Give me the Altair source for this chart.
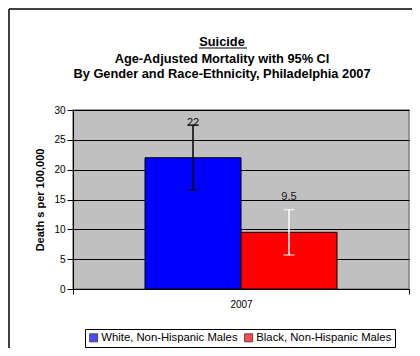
import altair as alt
import pandas as pd

groups = ["White, Non-Hispanic Males", "Black, Non-Hispanic Males"]
years = ["2007", "2007"]
values = [22, 9.5]
lower = [16.6, 5.7]
upper = [27.5, 13.3]
labels = ["22", "9.5"]
bar_colors = ["#0000FF", "#FF0000"]
err_colors = ["#000000", "#FFFFFF"]
y_ticks = [0, 5, 10, 15, 20, 25, 30]

title_lines = [
    "Suicide",
    "Age-Adjusted Mortality with 95% CI",
    "By Gender and Race-Ethnicity, Philadelphia 2007",
]

df = pd.DataFrame({
    "group": groups,
    "year": years,
    "value": values,
    "lower": lower,
    "upper": upper,
    "label": labels,
    "ebc": err_colors,
})
one = pd.DataFrame({"k": [0]})

FONT = "Liberation Sans"

yscale = alt.Scale(domain=[0, 30], nice=False)
yaxis = alt.Axis(
    values=y_ticks, title="Death s per 100,000",
    titleFontSize=11, titleFontWeight="bold", titleColor="#000",
    titleX=-33, titleY=89.5, titleAngle=270, titleAlign="center",
    titleBaseline="middle",
    labelFontSize=10, labelColor="#000", tickColor="#000",
    domainColor="#000", tickSize=6, labelPadding=2,
    grid=True, gridColor="#000", gridWidth=1,
)

base = alt.Chart(df).encode(
    x=alt.X(
        "year:N",
        scale=alt.Scale(paddingInner=0, paddingOuter=0),
        axis=alt.Axis(
            title=None, labelAngle=0, tickBand="extent", grid=False,
            labelFontSize=10, labelColor="#000", tickColor="#000",
            domainColor="#000", tickSize=5, labelPadding=5,
        ),
    ),
    xOffset=alt.XOffset(
        "group:N", sort=groups,
        scale=alt.Scale(paddingInner=0, paddingOuter=0.75),
    ),
)

bars = base.mark_bar(stroke="black", strokeWidth=1).encode(
    y=alt.Y("value:Q", scale=yscale, axis=yaxis),
    color=alt.Color(
        "group:N", sort=groups,
        scale=alt.Scale(domain=groups, range=bar_colors),
        legend=alt.Legend(
            title=None, orient="none", legendX=12, legendY=219,
            direction="horizontal", strokeColor="black", fillColor="white",
            padding=3, labelFontSize=11.3, labelColor="#000", labelLimit=400,
            symbolType="square", symbolSize=64, symbolStrokeColor="black",
            symbolStrokeWidth=1, columnPadding=4, labelOffset=2,
        ),
    ),
)

err = base.mark_rule(strokeWidth=1.5).encode(
    y=alt.Y("lower:Q", scale=yscale, axis=yaxis), y2="upper:Q",
    color=alt.Color("ebc:N", scale=None),
)
cap_lo = base.mark_tick(size=11, thickness=1.5).encode(
    y=alt.Y("lower:Q", scale=yscale, axis=yaxis),
    color=alt.Color("ebc:N", scale=None),
)
cap_hi = base.mark_tick(size=11, thickness=1.5).encode(
    y=alt.Y("upper:Q", scale=yscale, axis=yaxis),
    color=alt.Color("ebc:N", scale=None),
)
text = base.mark_text(dy=-35, fontSize=11, color="#111").encode(
    y=alt.Y("value:Q", scale=yscale, axis=yaxis), text="label:N"
)

def tline(s, y):
    return alt.Chart(one).mark_text(
        text=s, fontSize=12.8, fontWeight="bold", color="#000",
        align="center", baseline="alphabetic",
    ).encode(x=alt.value(149), y=alt.value(y))

t1 = tline(title_lines[0], -64)
t2 = tline(title_lines[1], -47)
t3 = tline(title_lines[2], -32)
underline = alt.Chart(one).mark_rule(color="#000", strokeWidth=1).encode(
    x=alt.value(126), x2=alt.value(174), y=alt.value(-62)
)
frame_left = alt.Chart(one).mark_rule(color="#000", strokeWidth=1.5).encode(
    x=alt.value(-64), y=alt.value(-101), y2=alt.value(240)
)
frame_top = alt.Chart(one).mark_rule(color="#000", strokeWidth=1.5).encode(
    x=alt.value(-64), x2=alt.value(345), y=alt.value(-101)
)

chart = alt.layer(
    bars, err, cap_lo, cap_hi, text, t1, t2, t3, underline, frame_left, frame_top
).properties(
    width=336, height=179,
    autosize=alt.AutoSizeParams(type="none"),
    padding={"left": 65, "top": 102, "right": 3, "bottom": 59},
    background="white",
).configure(
    font=FONT,
    view=alt.ViewConfig(fill="#C0C0C0", stroke="#808080", strokeWidth=1.5),
)

chart.save("out.html", embed_options={"renderer": "svg", "actions": False})
